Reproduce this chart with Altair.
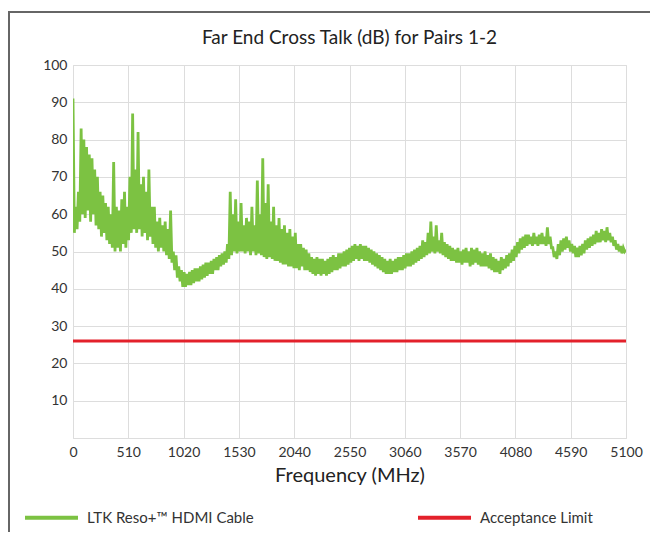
import altair as alt
import pandas as pd

# ---- data ----
# 0 - 2087.5 MHz sampled every 12.5 MHz (the spiky part)
freq_low = [i * 12.5 for i in range(168)]
xtalk_low = [
    91, 55, 62, 56, 66, 58, 83, 60, 80, 59,
    78, 61, 76, 58, 75, 60, 72, 57, 70, 56,
    66, 54, 65, 55, 63, 53, 62, 52, 60, 51,
    74, 50, 62, 51, 61, 50, 64, 52, 66, 51,
    62, 53, 70, 55, 87, 56, 72, 55, 82, 56,
    68, 54, 70, 55, 66, 53, 72, 54, 62, 52,
    62, 51, 58, 50, 59, 51, 57, 50, 58, 49,
    56, 48, 61, 47, 50, 45, 49, 43, 46, 42,
    45, 40.5, 44.5, 40.5, 44, 41, 44.5, 41, 45, 41.5,
    45.5, 42, 45.5, 42, 46, 42.5, 46.5, 43, 47, 43.5,
    47, 44, 47.5, 44, 48, 45, 48.5, 45, 49, 46,
    49.5, 46.5, 50, 47, 52, 48, 66, 49, 60, 50,
    64, 49.5, 58, 50, 63, 50, 57, 49.5, 59, 50,
    58, 49, 62, 50, 57, 49, 69, 49.5, 60, 49,
    75, 48.5, 63, 48, 68, 48.5, 58, 48, 62, 47.5,
    57, 47.5, 59, 47, 56, 46.5, 57, 46.5, 55, 46,
    56, 46, 54, 45.5, 55, 45.5, 52, 45,
]
# 2100 - 5100 MHz sampled every 12.5 MHz
freq_high = [2100 + i * 12.5 for i in range(241)]
xtalk_high = [
    52, 46, 51, 45, 50.5, 45, 49.5, 44.5,
    48.5, 44, 48, 43.5, 48.5, 44, 48, 43.5,
    48, 44, 47.5, 43.5, 48, 44, 48.5, 44.5,
    49, 45, 48.5, 45, 49.5, 45.5, 49.5, 46,
    50, 46, 50.5, 46.5, 51, 47, 51.5, 47.5,
    52, 48, 51.5, 47.5, 52, 48, 51.5, 47.5,
    51.5, 47.5, 51, 47, 50.5, 46.5, 50, 46,
    49.5, 45.5, 49, 45, 48.5, 44.5, 48, 44,
    47.5, 44, 48, 44, 47.5, 44.5, 48, 44.5,
    48.5, 45, 48.5, 45, 49, 45.5, 49.5, 46,
    49.5, 46, 50, 46.5, 50.5, 47, 51, 47.5,
    51.5, 48, 53, 48.5, 52.5, 49, 55, 49.5,
    58, 50, 54, 49.5, 57, 50, 53, 49.5,
    55, 49, 52.5, 48.5, 52, 48, 51.5, 47.5,
    51, 47.5, 50.5, 47, 51, 47, 50, 46.5,
    50.5, 47, 51, 47, 50, 46, 51, 46.5,
    50.5, 47, 51, 46.5, 50, 46, 49.5, 46,
    50, 46, 49, 45.5, 49.5, 45, 48.5, 44.5,
    48, 44.5, 47.5, 44, 48.5, 45, 48, 45.5,
    49, 46, 49.5, 47, 50.5, 47.5, 51.5, 48.5,
    52.5, 49.5, 53.5, 50.5, 54, 51, 54.5, 51.5,
    54.5, 52, 54, 51.5, 55, 52, 54, 51.5,
    54.5, 52, 55, 52, 54, 51.5, 56.5, 52,
    54, 51, 51, 48.5, 50, 48, 52, 49,
    53, 50, 53.5, 50.5, 54, 51, 53, 50,
    52, 49.5, 51.5, 48.5, 51, 48.5, 51.5, 49,
    52, 49.5, 53, 50.5, 53.5, 51, 54, 51.5,
    54.5, 52, 55.5, 52.5, 55, 52.5, 56, 53,
    55.5, 52.5, 56.5, 53, 55, 52.5, 54, 51.5,
    53, 50.5, 52, 50, 51.5, 49.5, 51, 50,
    50.5,
]
limit_freq = [0, 5100]
limit_db = [26, 26]

series_names = ["LTK Reso+\u2122 HDMI Cable", "Acceptance Limit"]
series_colors = ["#7cc242", "#e3212b"]
x_ticks = [0, 510, 1020, 1530, 2040, 2550, 3060, 3570, 4080, 4590, 5100]
y_ticks = [0, 10, 20, 30, 40, 50, 60, 70, 80, 90, 100]

freq_all = freq_low + freq_high
db_all = xtalk_low + xtalk_high

df = pd.DataFrame({
    "freq": freq_all + limit_freq,
    "db": db_all + limit_db,
    "series": [series_names[0]] * len(freq_all) + [series_names[1]] * len(limit_freq),
    "order": list(range(len(freq_all))) + list(range(len(limit_freq))),
})

FONT = "Lato"

lines = alt.Chart(df).mark_line(strokeWidth=2.8, strokeJoin="miter", clip=True).encode(
    x=alt.X("freq:Q",
            scale=alt.Scale(domain=[0, 5100], nice=False, zero=False),
            axis=alt.Axis(values=x_ticks, format="d", title="Frequency (MHz)",
                          grid=True, ticks=False, domain=False, labelPadding=7,
                          labelFontSize=14, labelColor="#333",
                          titleFontSize=20, titleFontWeight="normal",
                          titleColor="#222", titlePadding=6,
                          labelFlush=False)),
    y=alt.Y("db:Q",
            scale=alt.Scale(domain=[0, 100], nice=False),
            axis=alt.Axis(values=y_ticks, title=None, grid=True, ticks=False,
                          domain=False, labelPadding=6, labelFontSize=14,
                          labelColor="#333",
                          labelExpr="datum.value == 0 ? '' : datum.label")),
    color=alt.Color("series:N",
                    scale=alt.Scale(domain=series_names, range=series_colors),
                    legend=alt.Legend(title=None, orient="none", legendX=-50,
                                      legendY=424, direction="horizontal",
                                      columns=2, symbolType="stroke",
                                      symbolSize=2809, symbolStrokeWidth=4,
                                      labelFontSize=15, labelColor="#333",
                                      labelOffset=7, columnPadding=156,
                                      labelLimit=400)),
    order="order:Q",
)

border_top = alt.Chart(pd.DataFrame({"k": [0]})).mark_rule(
    color="#666", strokeWidth=2).encode(
    x=alt.value(-65), x2=alt.value(600), y=alt.value(-53))
border_left = alt.Chart(pd.DataFrame({"k": [0]})).mark_rule(
    color="#666", strokeWidth=2).encode(
    x=alt.value(-64), y=alt.value(-53), y2=alt.value(480))

chart = alt.layer(border_top, border_left, lines).properties(
    width=553, height=373,
    autosize=alt.AutoSizeParams(type="none"),
    padding={"left": 65, "top": 57, "right": 24, "bottom": 94},
    title=alt.Title("Far End Cross Talk (dB) for Pairs 1-2", fontSize=19,
                    fontWeight="normal", color="#222", offset=-37,
                    anchor="middle", frame="group"),
    background="white",
).configure_view(
    stroke="#111", strokeWidth=3
).configure_axis(
    gridColor="#484848", gridWidth=1.4, gridOpacity=1
).configure(
    font=FONT
)

chart.save("out.html", embed_options={"renderer": "svg", "actions": False})
